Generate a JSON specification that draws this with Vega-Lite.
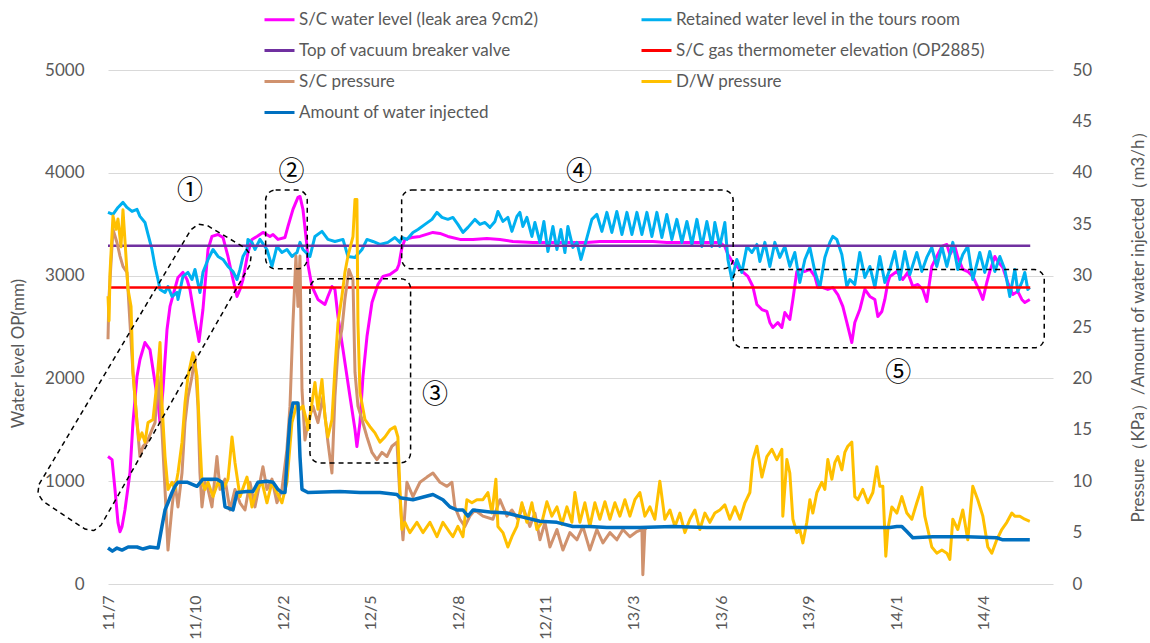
{
"$schema":"https://vega.github.io/schema/vega-lite/v6.json",
"width":945,"height":514,
"autosize":{"type":"none"},
"padding":{"left":108,"top":70,"right":97,"bottom":59},
"background":"white",
"config":{"view":{"stroke":null},"font":"Lato"},
"datasets":{
"mag":[{"t":0,"v":1240},{"t":0.46,"v":1210},{"t":0.8,"v":918},{"t":1.14,"v":597},{"t":1.37,"v":509},{"t":1.6,"v":558},{"t":1.94,"v":723},{"t":2.51,"v":1084},{"t":2.85,"v":1570},{"t":3.31,"v":2018},{"t":3.65,"v":2184},{"t":4.22,"v":2349},{"t":4.79,"v":2281},{"t":5.14,"v":2086},{"t":5.71,"v":1765},{"t":5.94,"v":1570},{"t":6.28,"v":1892},{"t":6.74,"v":2476},{"t":7.08,"v":2700},{"t":7.99,"v":2982},{"t":8.56,"v":3031},{"t":9.02,"v":2962},{"t":9.36,"v":2865},{"t":9.93,"v":2573},{"t":10.39,"v":2359},{"t":10.84,"v":2670},{"t":11.42,"v":3254},{"t":11.87,"v":3381},{"t":12.56,"v":3400},{"t":13.13,"v":3371},{"t":13.7,"v":3186},{"t":14.27,"v":2962},{"t":14.73,"v":2797},{"t":15.07,"v":2865},{"t":15.41,"v":2962},{"t":15.98,"v":3225},{"t":16.44,"v":3352},{"t":17.01,"v":3381},{"t":17.69,"v":3420},{"t":18.49,"v":3381},{"t":18.84,"v":3400},{"t":19.41,"v":3352},{"t":20.21,"v":3371},{"t":20.55,"v":3478},{"t":21.12,"v":3644},{"t":21.69,"v":3761},{"t":21.92,"v":3770},{"t":22.26,"v":3644},{"t":22.72,"v":3284},{"t":22.83,"v":3108},{"t":23.29,"v":2894},{"t":23.97,"v":2768},{"t":24.77,"v":2719},{"t":25.11,"v":2797},{"t":25.57,"v":2894},{"t":25.91,"v":2865},{"t":26.26,"v":2602},{"t":26.83,"v":2281},{"t":27.63,"v":1823},{"t":28.2,"v":1502},{"t":28.42,"v":1337},{"t":28.77,"v":1570},{"t":29.11,"v":2018},{"t":29.57,"v":2407},{"t":30.14,"v":2738},{"t":30.82,"v":2914},{"t":31.39,"v":2992},{"t":32.19,"v":3011},{"t":32.99,"v":3060},{"t":33.22,"v":3108},{"t":33.56,"v":3274},{"t":33.9,"v":3352},{"t":34.7,"v":3371},{"t":35.62,"v":3381},{"t":37.1,"v":3420},{"t":37.9,"v":3410},{"t":38.81,"v":3381},{"t":40.18,"v":3352},{"t":41.67,"v":3352},{"t":43.26,"v":3362},{"t":44.75,"v":3352},{"t":46.23,"v":3332},{"t":48.52,"v":3323},{"t":50.46,"v":3323},{"t":52.4,"v":3323},{"t":54.68,"v":3323},{"t":56.16,"v":3332},{"t":59.93,"v":3332},{"t":62.21,"v":3332},{"t":63.81,"v":3323},{"t":66.1,"v":3323},{"t":68.38,"v":3323},{"t":69.86,"v":3323},{"t":70.43,"v":3284},{"t":70.78,"v":3206},{"t":71.35,"v":3128},{"t":72.15,"v":3060},{"t":73.06,"v":2992},{"t":73.63,"v":2894},{"t":74.09,"v":2719},{"t":74.66,"v":2670},{"t":75.23,"v":2651},{"t":75.57,"v":2544},{"t":75.91,"v":2495},{"t":76.48,"v":2544},{"t":76.94,"v":2495},{"t":77.28,"v":2641},{"t":77.85,"v":2573},{"t":78.2,"v":2768},{"t":78.65,"v":3040},{"t":78.99,"v":3060},{"t":79.57,"v":3040},{"t":80.14,"v":3060},{"t":80.71,"v":2992},{"t":81.05,"v":2884},{"t":81.62,"v":2884},{"t":82.19,"v":2865},{"t":82.76,"v":2884},{"t":83.33,"v":2816},{"t":83.9,"v":2700},{"t":84.36,"v":2544},{"t":84.93,"v":2349},{"t":85.27,"v":2544},{"t":85.84,"v":2670},{"t":86.42,"v":2865},{"t":86.99,"v":2797},{"t":87.56,"v":2768},{"t":87.9,"v":2602},{"t":88.36,"v":2651},{"t":88.7,"v":2768},{"t":89.04,"v":2933},{"t":89.27,"v":2992},{"t":90.07,"v":3040},{"t":90.75,"v":2962},{"t":91.32,"v":3031},{"t":91.89,"v":2894},{"t":92.47,"v":2914},{"t":93.04,"v":2865},{"t":93.49,"v":2748},{"t":94.06,"v":3089},{"t":94.63,"v":3186},{"t":95.21,"v":3284},{"t":95.78,"v":3303},{"t":96.12,"v":3206},{"t":96.69,"v":3284},{"t":97.03,"v":3177},{"t":97.6,"v":3060},{"t":98.17,"v":3040},{"t":98.74,"v":2992},{"t":99.54,"v":2846},{"t":99.89,"v":2768},{"t":100.34,"v":2933},{"t":100.68,"v":3040},{"t":101.26,"v":3186},{"t":101.6,"v":3138},{"t":102.17,"v":3079},{"t":102.74,"v":2933},{"t":103.31,"v":2816},{"t":103.88,"v":2846},{"t":104.34,"v":2768},{"t":104.68,"v":2738},{"t":105.25,"v":2768}],
"cyan":[{"t":0,"v":3615},{"t":0.57,"v":3595},{"t":1.14,"v":3663},{"t":1.71,"v":3712},{"t":2.17,"v":3663},{"t":2.74,"v":3624},{"t":3.31,"v":3644},{"t":3.65,"v":3576},{"t":4.22,"v":3517},{"t":4.57,"v":3400},{"t":5.02,"v":3254},{"t":5.37,"v":3089},{"t":5.71,"v":2962},{"t":5.94,"v":2865},{"t":6.51,"v":2836},{"t":6.85,"v":2894},{"t":7.31,"v":2797},{"t":7.88,"v":2836},{"t":7.99,"v":2768},{"t":8.56,"v":2992},{"t":9.13,"v":3031},{"t":9.59,"v":2962},{"t":9.93,"v":3060},{"t":10.5,"v":2836},{"t":10.84,"v":3031},{"t":11.42,"v":3157},{"t":11.99,"v":3254},{"t":12.56,"v":3186},{"t":13.13,"v":3157},{"t":13.7,"v":3089},{"t":14.27,"v":3040},{"t":14.73,"v":2962},{"t":15.07,"v":3060},{"t":15.41,"v":3186},{"t":15.87,"v":3254},{"t":15.98,"v":3352},{"t":16.44,"v":3323},{"t":16.78,"v":3254},{"t":17.35,"v":3352},{"t":18.15,"v":3254},{"t":18.72,"v":3089},{"t":19.29,"v":3284},{"t":19.86,"v":3225},{"t":20.43,"v":3254},{"t":21.0,"v":3186},{"t":21.58,"v":3225},{"t":21.92,"v":3323},{"t":22.26,"v":3254},{"t":23.06,"v":3186},{"t":23.63,"v":3381},{"t":24.43,"v":3430},{"t":25.11,"v":3352},{"t":25.91,"v":3332},{"t":26.83,"v":3352},{"t":27.4,"v":3186},{"t":28.2,"v":3177},{"t":29.0,"v":3254},{"t":29.57,"v":3352},{"t":30.25,"v":3332},{"t":31.05,"v":3303},{"t":31.96,"v":3323},{"t":32.76,"v":3371},{"t":33.33,"v":3323},{"t":33.56,"v":3371},{"t":34.13,"v":3352},{"t":34.82,"v":3420},{"t":35.39,"v":3449},{"t":36.19,"v":3498},{"t":36.99,"v":3547},{"t":37.56,"v":3615},{"t":38.13,"v":3566},{"t":38.81,"v":3547},{"t":39.38,"v":3566},{"t":39.95,"v":3498},{"t":40.53,"v":3420},{"t":41.1,"v":3469},{"t":41.89,"v":3547},{"t":42.47,"v":3498},{"t":43.04,"v":3517},{"t":43.61,"v":3469},{"t":44.18,"v":3527},{"t":44.52,"v":3624},{"t":45.09,"v":3527},{"t":45.66,"v":3566},{"t":46.12,"v":3430},{"t":46.69,"v":3576},{"t":47.03,"v":3615},{"t":47.37,"v":3478},{"t":47.83,"v":3566},{"t":48.4,"v":3381},{"t":48.74,"v":3517},{"t":49.32,"v":3323},{"t":49.77,"v":3527},{"t":50.23,"v":3235},{"t":50.8,"v":3478},{"t":51.26,"v":3254},{"t":51.71,"v":3449},{"t":52.17,"v":3225},{"t":52.51,"v":3478},{"t":53.08,"v":3274},{"t":53.54,"v":3323},{"t":54.0,"v":3157},{"t":54.57,"v":3332},{"t":55.25,"v":3547},{"t":55.82,"v":3595},{"t":56.39,"v":3430},{"t":56.96,"v":3615},{"t":57.53,"v":3420},{"t":58.1,"v":3624},{"t":58.68,"v":3400},{"t":59.25,"v":3615},{"t":59.82,"v":3400},{"t":60.39,"v":3615},{"t":60.96,"v":3400},{"t":61.53,"v":3615},{"t":62.1,"v":3381},{"t":62.67,"v":3615},{"t":63.24,"v":3371},{"t":63.81,"v":3595},{"t":64.38,"v":3352},{"t":64.95,"v":3547},{"t":65.53,"v":3323},{"t":66.1,"v":3527},{"t":66.67,"v":3303},{"t":67.24,"v":3547},{"t":67.81,"v":3284},{"t":68.38,"v":3527},{"t":68.95,"v":3284},{"t":69.29,"v":3517},{"t":69.86,"v":3284},{"t":70.43,"v":3517},{"t":70.78,"v":3157},{"t":71.23,"v":2962},{"t":71.8,"v":3157},{"t":72.37,"v":3031},{"t":72.95,"v":3284},{"t":73.52,"v":3225},{"t":74.09,"v":3303},{"t":74.43,"v":3138},{"t":75.0,"v":3323},{"t":75.57,"v":3089},{"t":76.14,"v":3323},{"t":76.71,"v":3177},{"t":77.28,"v":3284},{"t":77.85,"v":3089},{"t":78.42,"v":3225},{"t":78.99,"v":2933},{"t":79.57,"v":3157},{"t":80.14,"v":3274},{"t":80.71,"v":3040},{"t":81.28,"v":2884},{"t":81.85,"v":3177},{"t":82.42,"v":3323},{"t":82.76,"v":3381},{"t":83.22,"v":3352},{"t":83.79,"v":3206},{"t":84.36,"v":2894},{"t":84.7,"v":2962},{"t":85.27,"v":2914},{"t":85.84,"v":3225},{"t":86.42,"v":2982},{"t":86.99,"v":3089},{"t":87.56,"v":2884},{"t":88.13,"v":3186},{"t":88.7,"v":2933},{"t":89.27,"v":3060},{"t":89.84,"v":3235},{"t":90.41,"v":2962},{"t":90.98,"v":3235},{"t":91.55,"v":3011},{"t":92.35,"v":3225},{"t":92.92,"v":3040},{"t":93.49,"v":3177},{"t":94.06,"v":3274},{"t":94.63,"v":3089},{"t":95.21,"v":3284},{"t":95.78,"v":3089},{"t":96.46,"v":3323},{"t":97.03,"v":3060},{"t":97.6,"v":3206},{"t":98.17,"v":3284},{"t":98.74,"v":2962},{"t":99.54,"v":3225},{"t":100.11,"v":3031},{"t":100.68,"v":3235},{"t":101.26,"v":3040},{"t":101.83,"v":3186},{"t":102.4,"v":3060},{"t":102.97,"v":2797},{"t":103.54,"v":3060},{"t":103.88,"v":2846},{"t":104.34,"v":2933},{"t":104.68,"v":3031},{"t":105.02,"v":2865},{"t":105.25,"v":2884}],
"vb":[{"t":0,"v":3290},{"t":105.3,"v":3290}],
"gt":[{"t":0,"v":2885},{"t":105.3,"v":2885}],
"brown":[{"t":0,"v":23.8},{"t":0.1,"v":27.7},{"t":0.57,"v":34.5},{"t":1.03,"v":33.2},{"t":1.37,"v":31.9},{"t":1.71,"v":30.9},{"t":2.17,"v":30.3},{"t":2.51,"v":25.4},{"t":2.85,"v":20.6},{"t":3.31,"v":15.7},{"t":3.65,"v":12.4},{"t":4.0,"v":13.4},{"t":4.45,"v":13.8},{"t":5.02,"v":15.0},{"t":5.37,"v":15.7},{"t":5.71,"v":20.2},{"t":6.16,"v":15.0},{"t":6.51,"v":9.2},{"t":6.85,"v":3.3},{"t":7.31,"v":7.5},{"t":7.65,"v":9.9},{"t":7.99,"v":7.5},{"t":8.45,"v":10.8},{"t":8.79,"v":15.7},{"t":9.13,"v":18.2},{"t":9.59,"v":20.2},{"t":9.93,"v":22.1},{"t":10.27,"v":17.3},{"t":10.5,"v":10.8},{"t":10.73,"v":7.5},{"t":11.07,"v":9.9},{"t":11.42,"v":9.2},{"t":11.87,"v":7.5},{"t":12.44,"v":12.4},{"t":12.79,"v":9.2},{"t":13.36,"v":10.2},{"t":13.93,"v":7.2},{"t":14.5,"v":9.2},{"t":15.07,"v":7.9},{"t":15.64,"v":7.2},{"t":16.21,"v":9.9},{"t":16.78,"v":7.5},{"t":17.35,"v":9.9},{"t":17.69,"v":11.4},{"t":18.15,"v":9.2},{"t":18.72,"v":10.2},{"t":19.29,"v":7.9},{"t":19.86,"v":9.2},{"t":20.43,"v":13.1},{"t":20.78,"v":17.3},{"t":21.12,"v":25.4},{"t":21.46,"v":31.9},{"t":21.69,"v":27.0},{"t":21.92,"v":31.9},{"t":22.15,"v":18.9},{"t":22.49,"v":14.0},{"t":22.83,"v":15.7},{"t":23.4,"v":17.3},{"t":23.97,"v":15.7},{"t":24.54,"v":18.2},{"t":25.11,"v":13.8},{"t":25.57,"v":10.8},{"t":25.91,"v":18.2},{"t":26.26,"v":22.8},{"t":26.71,"v":24.8},{"t":27.05,"v":27.7},{"t":27.51,"v":30.6},{"t":27.97,"v":29.6},{"t":28.2,"v":20.6},{"t":28.54,"v":17.3},{"t":29.0,"v":16.0},{"t":29.57,"v":14.3},{"t":30.14,"v":12.8},{"t":30.71,"v":12.1},{"t":31.28,"v":12.8},{"t":31.85,"v":12.4},{"t":32.42,"v":13.4},{"t":32.99,"v":13.8},{"t":33.33,"v":8.5},{"t":33.68,"v":4.3},{"t":34.13,"v":9.9},{"t":34.82,"v":8.5},{"t":35.62,"v":9.9},{"t":36.42,"v":10.4},{"t":37.1,"v":10.8},{"t":37.9,"v":9.9},{"t":38.7,"v":9.5},{"t":39.27,"v":9.9},{"t":39.61,"v":7.5},{"t":40.18,"v":6.3},{"t":40.75,"v":5.6},{"t":41.32,"v":6.6},{"t":41.89,"v":7.2},{"t":42.81,"v":6.6},{"t":43.95,"v":6.3},{"t":44.75,"v":8.2},{"t":45.55,"v":6.6},{"t":46.12,"v":7.2},{"t":46.8,"v":6.3},{"t":47.37,"v":7.5},{"t":48.17,"v":5.6},{"t":48.74,"v":6.9},{"t":49.32,"v":4.3},{"t":49.89,"v":6.0},{"t":50.46,"v":3.6},{"t":51.26,"v":5.3},{"t":51.94,"v":3.3},{"t":52.74,"v":5.0},{"t":53.54,"v":4.3},{"t":54.22,"v":5.6},{"t":55.02,"v":3.3},{"t":55.82,"v":5.3},{"t":56.51,"v":4.0},{"t":57.31,"v":5.0},{"t":58.1,"v":4.3},{"t":58.79,"v":5.3},{"t":59.59,"v":4.6},{"t":60.39,"v":5.1},{"t":60.96,"v":5.3},{"t":61.07,"v":0.9},{"t":61.3,"v":5.3},{"t":61.53,"v":5.5}],
"yellow":[{"t":0,"v":28.0},{"t":0.12,"v":25.6},{"t":0.23,"v":30.3},{"t":0.57,"v":35.8},{"t":0.91,"v":34.5},{"t":1.14,"v":35.5},{"t":1.48,"v":32.8},{"t":1.71,"v":36.4},{"t":2.05,"v":31.9},{"t":2.28,"v":28.7},{"t":2.63,"v":27.0},{"t":2.85,"v":20.6},{"t":3.31,"v":15.7},{"t":3.54,"v":14.0},{"t":3.88,"v":14.7},{"t":4.22,"v":13.8},{"t":4.57,"v":15.7},{"t":5.14,"v":16.0},{"t":5.59,"v":19.6},{"t":5.94,"v":23.5},{"t":6.16,"v":17.6},{"t":6.51,"v":12.4},{"t":6.85,"v":9.2},{"t":7.31,"v":9.9},{"t":7.65,"v":9.2},{"t":7.99,"v":10.8},{"t":8.45,"v":13.8},{"t":8.79,"v":17.6},{"t":9.13,"v":20.2},{"t":9.7,"v":22.5},{"t":10.16,"v":20.2},{"t":10.5,"v":13.8},{"t":10.73,"v":9.9},{"t":11.07,"v":9.2},{"t":11.42,"v":9.9},{"t":11.99,"v":8.5},{"t":12.56,"v":9.9},{"t":13.13,"v":9.2},{"t":13.7,"v":10.2},{"t":14.16,"v":14.3},{"t":14.5,"v":11.8},{"t":15.07,"v":8.5},{"t":15.87,"v":10.4},{"t":16.44,"v":7.5},{"t":17.01,"v":9.2},{"t":17.58,"v":9.9},{"t":18.15,"v":7.9},{"t":18.72,"v":9.9},{"t":19.29,"v":8.9},{"t":19.86,"v":7.9},{"t":20.43,"v":9.9},{"t":21.0,"v":15.7},{"t":21.58,"v":17.6},{"t":21.92,"v":17.0},{"t":22.26,"v":17.3},{"t":22.72,"v":15.7},{"t":22.83,"v":15.0},{"t":23.29,"v":17.6},{"t":23.63,"v":19.6},{"t":23.97,"v":17.0},{"t":24.43,"v":19.9},{"t":24.77,"v":16.3},{"t":25.11,"v":14.3},{"t":25.57,"v":16.0},{"t":25.91,"v":20.9},{"t":26.26,"v":25.4},{"t":26.71,"v":28.0},{"t":27.05,"v":30.3},{"t":27.4,"v":31.9},{"t":27.97,"v":33.8},{"t":28.2,"v":37.4},{"t":28.42,"v":37.4},{"t":28.54,"v":25.4},{"t":28.77,"v":18.6},{"t":29.34,"v":16.0},{"t":29.91,"v":15.3},{"t":30.48,"v":14.7},{"t":31.05,"v":13.8},{"t":31.62,"v":14.3},{"t":32.19,"v":15.0},{"t":32.76,"v":15.3},{"t":33.1,"v":14.3},{"t":33.33,"v":9.2},{"t":33.56,"v":5.3},{"t":33.9,"v":6.0},{"t":34.47,"v":5.0},{"t":35.27,"v":6.0},{"t":35.96,"v":5.0},{"t":36.76,"v":6.0},{"t":37.56,"v":4.6},{"t":38.24,"v":6.0},{"t":39.04,"v":5.0},{"t":39.38,"v":4.6},{"t":39.95,"v":5.6},{"t":40.53,"v":4.6},{"t":40.98,"v":8.2},{"t":41.55,"v":7.9},{"t":42.12,"v":8.2},{"t":42.81,"v":8.2},{"t":43.38,"v":8.9},{"t":43.84,"v":6.9},{"t":44.29,"v":10.2},{"t":44.52,"v":5.6},{"t":45.09,"v":5.0},{"t":45.66,"v":3.6},{"t":46.12,"v":4.6},{"t":46.69,"v":5.6},{"t":47.26,"v":7.9},{"t":47.83,"v":6.0},{"t":48.4,"v":7.9},{"t":48.97,"v":5.3},{"t":49.54,"v":6.0},{"t":50.11,"v":8.0},{"t":50.68,"v":6.6},{"t":51.26,"v":7.5},{"t":51.83,"v":5.8},{"t":52.4,"v":7.5},{"t":52.97,"v":6.0},{"t":53.31,"v":8.9},{"t":53.88,"v":6.0},{"t":54.45,"v":7.9},{"t":55.02,"v":5.6},{"t":55.59,"v":7.9},{"t":56.16,"v":6.3},{"t":56.74,"v":8.0},{"t":57.31,"v":6.3},{"t":57.88,"v":7.9},{"t":58.45,"v":6.6},{"t":59.02,"v":8.2},{"t":59.59,"v":6.6},{"t":60.16,"v":8.2},{"t":60.73,"v":8.9},{"t":61.3,"v":6.6},{"t":61.87,"v":7.5},{"t":62.44,"v":6.3},{"t":63.01,"v":10.0},{"t":63.58,"v":6.3},{"t":64.16,"v":7.2},{"t":64.73,"v":5.6},{"t":65.3,"v":6.9},{"t":65.87,"v":5.0},{"t":66.44,"v":6.3},{"t":67.01,"v":7.2},{"t":67.58,"v":5.3},{"t":68.15,"v":6.9},{"t":68.72,"v":6.0},{"t":69.29,"v":6.9},{"t":69.86,"v":7.2},{"t":70.43,"v":7.7},{"t":71.0,"v":6.3},{"t":71.58,"v":7.5},{"t":72.15,"v":6.3},{"t":72.72,"v":7.9},{"t":73.29,"v":8.9},{"t":73.63,"v":12.1},{"t":74.09,"v":13.4},{"t":74.66,"v":10.4},{"t":75.23,"v":12.4},{"t":75.8,"v":13.1},{"t":76.37,"v":12.1},{"t":76.94,"v":13.1},{"t":77.05,"v":6.6},{"t":77.51,"v":12.1},{"t":77.85,"v":10.8},{"t":78.2,"v":6.3},{"t":78.65,"v":5.0},{"t":78.99,"v":5.3},{"t":79.34,"v":4.0},{"t":79.79,"v":6.0},{"t":80.14,"v":8.2},{"t":80.48,"v":6.9},{"t":80.94,"v":8.9},{"t":81.51,"v":9.9},{"t":81.85,"v":9.2},{"t":82.19,"v":12.1},{"t":82.65,"v":10.2},{"t":82.99,"v":11.8},{"t":83.33,"v":12.4},{"t":83.79,"v":11.1},{"t":84.13,"v":12.8},{"t":84.47,"v":13.4},{"t":84.93,"v":13.8},{"t":85.27,"v":8.5},{"t":85.62,"v":8.2},{"t":86.19,"v":9.2},{"t":86.76,"v":7.9},{"t":87.33,"v":8.9},{"t":87.79,"v":11.4},{"t":88.13,"v":9.5},{"t":88.47,"v":9.5},{"t":88.81,"v":2.7},{"t":89.04,"v":5.3},{"t":89.5,"v":7.5},{"t":90.07,"v":6.9},{"t":90.64,"v":8.5},{"t":91.21,"v":6.9},{"t":91.78,"v":6.3},{"t":92.35,"v":7.9},{"t":92.92,"v":9.4},{"t":93.26,"v":6.6},{"t":93.61,"v":5.3},{"t":94.06,"v":3.6},{"t":94.63,"v":3.0},{"t":95.21,"v":3.3},{"t":95.78,"v":3.0},{"t":96.12,"v":2.4},{"t":96.46,"v":6.3},{"t":97.03,"v":5.3},{"t":97.6,"v":7.2},{"t":98.17,"v":4.3},{"t":98.74,"v":9.5},{"t":99.31,"v":8.2},{"t":99.89,"v":6.6},{"t":100.46,"v":3.6},{"t":100.91,"v":3.0},{"t":101.48,"v":4.3},{"t":102.05,"v":5.3},{"t":102.63,"v":6.0},{"t":103.2,"v":6.9},{"t":103.54,"v":6.6},{"t":104.11,"v":6.6},{"t":104.68,"v":6.3},{"t":105.25,"v":6.1}],
"blue":[{"t":0,"v":3.5},{"t":0.5,"v":3.2},{"t":1.03,"v":3.5},{"t":1.6,"v":3.3},{"t":2.3,"v":3.6},{"t":3.31,"v":3.6},{"t":4.0,"v":3.4},{"t":4.79,"v":3.6},{"t":5.71,"v":3.5},{"t":6.16,"v":5.6},{"t":6.51,"v":7.2},{"t":6.85,"v":7.9},{"t":7.31,"v":8.9},{"t":7.65,"v":9.5},{"t":7.99,"v":9.9},{"t":9.02,"v":9.9},{"t":10.16,"v":9.5},{"t":10.84,"v":10.2},{"t":11.64,"v":10.2},{"t":12.44,"v":10.2},{"t":13.01,"v":9.9},{"t":13.36,"v":7.5},{"t":14.27,"v":7.2},{"t":14.73,"v":8.9},{"t":15.87,"v":9.0},{"t":16.55,"v":9.0},{"t":17.12,"v":9.9},{"t":18.15,"v":10.0},{"t":18.84,"v":9.9},{"t":19.41,"v":9.2},{"t":19.86,"v":8.9},{"t":20.21,"v":8.9},{"t":20.55,"v":13.4},{"t":20.78,"v":16.0},{"t":21.12,"v":17.6},{"t":21.69,"v":17.6},{"t":21.92,"v":12.4},{"t":22.15,"v":9.2},{"t":22.83,"v":8.9},{"t":26.48,"v":9.0},{"t":28.77,"v":8.9},{"t":31.05,"v":8.9},{"t":32.99,"v":8.7},{"t":33.33,"v":8.4},{"t":34.82,"v":8.2},{"t":37.1,"v":8.7},{"t":38.24,"v":8.2},{"t":39.04,"v":7.5},{"t":39.84,"v":7.2},{"t":40.53,"v":7.2},{"t":41.1,"v":6.6},{"t":41.67,"v":7.2},{"t":43.61,"v":7.0},{"t":45.55,"v":6.9},{"t":47.37,"v":6.5},{"t":49.32,"v":6.1},{"t":51.26,"v":6.0},{"t":53.08,"v":5.6},{"t":55.02,"v":5.6},{"t":56.96,"v":5.5},{"t":60.73,"v":5.5},{"t":64.5,"v":5.6},{"t":68.38,"v":5.5},{"t":74.43,"v":5.5},{"t":78.65,"v":5.5},{"t":84.7,"v":5.5},{"t":89.27,"v":5.5},{"t":90.07,"v":5.6},{"t":90.64,"v":5.6},{"t":91.21,"v":5.1},{"t":91.89,"v":4.5},{"t":94.18,"v":4.6},{"t":98.06,"v":4.6},{"t":101.48,"v":4.5},{"t":102.17,"v":4.3},{"t":105.25,"v":4.3}],
"boxes":[{"t":18.0,"t2":22.75,"v":3066,"v2":3832},{"t":23.06,"t2":34.55,"v":1178,"v2":2969},{"t":33.53,"t2":71.38,"v":3066,"v2":3832},{"t":71.38,"t2":106.9,"v":2297,"v2":3059}],
"poly":[{"i":0,"t":-7.87,"v":970},{"i":1,"t":9.46,"v":3445},{"i":2,"t":10.31,"v":3499},{"i":3,"t":11.34,"v":3487},{"i":4,"t":15.72,"v":3265},{"i":5,"t":16.34,"v":3193},{"i":6,"t":16.21,"v":3104},{"i":7,"t":-0.8,"v":571},{"i":8,"t":-1.62,"v":520},{"i":9,"t":-2.63,"v":534},{"i":10,"t":-7.42,"v":805},{"i":11,"t":-8.01,"v":880},{"i":12,"t":-7.87,"v":970}],
"labels":[{"t":9.36,"v":3824,"s":"①"},{"t":20.95,"v":4009,"s":"②"},{"t":37.33,"v":1843,"s":"③"},{"t":53.77,"v":4009,"s":"④"},{"t":90.24,"v":2052,"s":"⑤"}]
},
"encoding":{"x":{"field":"t","type":"quantitative","scale":{"domain":[0,107.9],"nice":false,"zero":false},
 "axis":{"values":[0,10,20,30,40,50,60,70,80,90,100],"labelExpr":"['11/7','11/10','12/2','12/5','12/8','12/11','13/3','13/6','13/9','14/1','14/4'][round(datum.value/10)]","labelAngle":270,"labelPadding":11,"labelFont":"Lato","labelFontSize":16,"labelColor":"#595959","grid":false,"domain":false,"ticks":false,"title":null,"labelOverlap":false,"labelFlush":false}}},
"layer":[
 {"encoding":{"y":{"field":"v","type":"quantitative","scale":{"domain":[0,5000],"nice":false},
   "axis":{"values":[0,1000,2000,3000,4000,5000],"format":"d","grid":true,"gridColor":"#D9D9D9","gridWidth":1,"domain":false,"ticks":false,"labelPadding":24,"labelFont":"Lato","labelFontSize":17,"labelColor":"#595959","title":"Water level OP(mm)","titleFont":"Lato","titleFontSize":17,"titleFontWeight":"normal","titleColor":"#595959","titleAngle":270,"titleX":-90,"titleY":283,"titleAlign":"center","titleBaseline":"middle"}}},
  "layer":[
   {"data":{"name":"mag"},"mark":{"type":"line","strokeWidth":3,"strokeJoin":"round"},
    "encoding":{"color":{"datum":"S/C water level (leak area 9cm2)","type":"nominal",
      "scale":{"domain":["S/C water level (leak area 9cm2)","Retained water level in the tours room","Top of vacuum breaker valve","S/C gas thermometer elevation (OP2885)","S/C pressure","D/W pressure","Amount of water injected"],"range":["#FF00FF","#00B0F0","#7030A0","#FF0000","#D0926E","#FFC000","#0070C0"]},
      "legend":{"title":null,"orient":"none","legendX":155,"legendY":-67,"columns":2,"direction":"horizontal","symbolType":"stroke","symbolSize":900,"symbolStrokeWidth":3,"labelFont":"Lato","labelFontSize":17,"labelColor":"#595959","labelOffset":3,"columnPadding":96,"rowPadding":6,"padding":0,"labelLimit":0}}}},
   {"data":{"name":"cyan"},"mark":{"type":"line","strokeWidth":3,"strokeJoin":"round"},"encoding":{"color":{"datum":"Retained water level in the tours room","type":"nominal"}}},
   {"data":{"name":"vb"},"mark":{"type":"line","strokeWidth":2.5},"encoding":{"color":{"datum":"Top of vacuum breaker valve","type":"nominal"}}},
   {"data":{"name":"gt"},"mark":{"type":"line","strokeWidth":2.5},"encoding":{"color":{"datum":"S/C gas thermometer elevation (OP2885)","type":"nominal"}}}
  ]},
 {"encoding":{"y":{"field":"v","type":"quantitative","scale":{"domain":[0,50],"nice":false},
   "axis":{"orient":"right","values":[0,5,10,15,20,25,30,35,40,45,50],"grid":false,"domain":false,"ticks":false,"labelPadding":19,"labelFont":"Lato","labelFontSize":17,"labelColor":"#595959","title":"Pressure（KPa）/Amount of water injected（m3/h）","titleFont":"Lato","titleFontSize":17,"titleFontWeight":"normal","titleColor":"#595959","titleAngle":270,"titleX":85,"titleY":252,"titleAlign":"center","titleBaseline":"middle"}}},
  "layer":[
   {"data":{"name":"brown"},"mark":{"type":"line","strokeWidth":3,"strokeJoin":"round"},"encoding":{"color":{"datum":"S/C pressure","type":"nominal"}}},
   {"data":{"name":"yellow"},"mark":{"type":"line","strokeWidth":3,"strokeJoin":"round"},"encoding":{"color":{"datum":"D/W pressure","type":"nominal"}}},
   {"data":{"name":"blue"},"mark":{"type":"line","strokeWidth":3.5,"strokeJoin":"round"},"encoding":{"color":{"datum":"Amount of water injected","type":"nominal"}}}
  ]},
 {"encoding":{"y":{"field":"v","type":"quantitative","scale":{"domain":[0,5000],"nice":false},"axis":null}},
  "layer":[
   {"data":{"name":"boxes"},"mark":{"type":"rect","filled":false,"stroke":"black","strokeWidth":1.5,"strokeDash":[5,4],"cornerRadius":10},
    "encoding":{"x2":{"field":"t2"},"y2":{"field":"v2"}}},
   {"data":{"name":"poly"},"mark":{"type":"line","stroke":"black","strokeWidth":1.5,"strokeDash":[5,4]},
    "encoding":{"order":{"field":"i","type":"quantitative"}}},
   {"data":{"name":"labels"},"mark":{"type":"text","font":"Noto Sans CJK JP","fontSize":26,"color":"black","align":"center","baseline":"middle"},
    "encoding":{"text":{"field":"s"}}}
  ]}
],
"resolve":{"scale":{"y":"independent"},"axis":{"y":"independent"}}
}
